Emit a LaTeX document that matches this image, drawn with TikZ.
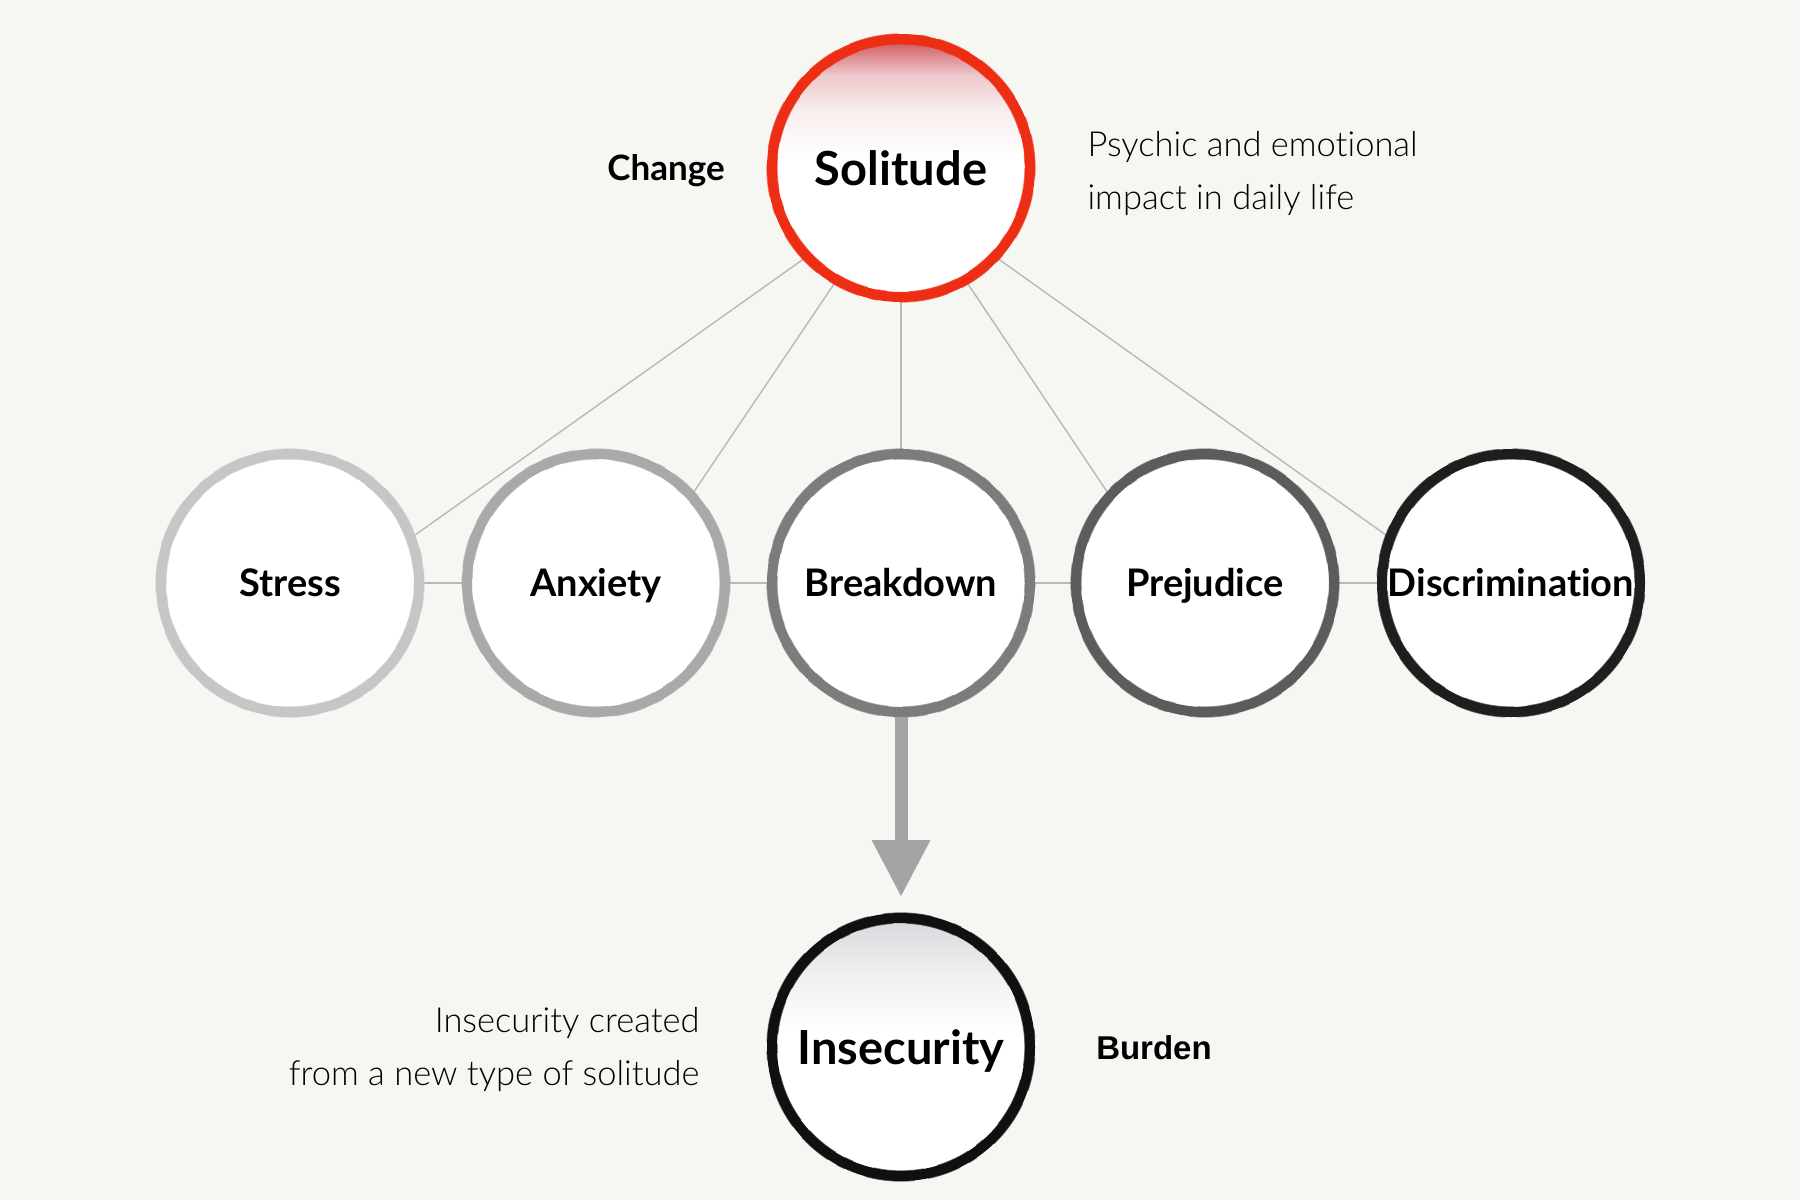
\documentclass[tikz,border=0pt]{standalone}
\usepackage{fontspec}
\setmainfont{Lato}[Ligatures=NoCommon]
\newfontfamily\lightfont{Lato Light}[Ligatures=NoCommon]
\newfontfamily\arialfont{Liberation Sans}
\usetikzlibrary{arrows.meta,backgrounds}
\definecolor{bgc}{HTML}{F6F6F2}
\definecolor{solred}{HTML}{EE2E14}
\definecolor{soltop}{HTML}{CE525A}
\definecolor{solpink}{HTML}{EDC9CC}
\definecolor{solpale}{HTML}{F9EDEE}
\definecolor{instop}{HTML}{D8D8DC}
\definecolor{inspale}{HTML}{F0F0F2}
\definecolor{linkc}{HTML}{B8B8B4}
\definecolor{arrowc}{HTML}{A4A4A4}
\definecolor{cst}{HTML}{C6C6C6}
\definecolor{can}{HTML}{A9A9A9}
\definecolor{cbd}{HTML}{7C7C7C}
\definecolor{cpr}{HTML}{5C5C5C}
\definecolor{cdi}{HTML}{1E1E1E}
\definecolor{cins}{HTML}{101010}
\pgfdeclareverticalshading{solshade}{100bp}{color(0bp)=(white); color(52bp)=(white); color(61bp)=(solpale); color(68bp)=(solpink); color(75bp)=(soltop); color(100bp)=(soltop)}
\pgfdeclareverticalshading{insshade}{100bp}{color(0bp)=(white); color(53bp)=(white); color(64bp)=(inspale); color(75bp)=(instop); color(100bp)=(instop)}
\tikzset{
  ring/.style={circle, minimum size=258pt, inner sep=0pt, line width=10pt, draw=#1, fill=white,
    text height=27.5pt, text depth=0pt,
    font=\fontsize{38}{44}\selectfont\bfseries},
  bigring/.style={ring=#1, text height=34pt, font=\fontsize{47}{54}\selectfont\bfseries},
  bristle/.style={line width=0.9pt, opacity=0.6, dash pattern=on 34pt off 10pt on 9pt off 22pt on 50pt off 14pt},
  link/.style={draw=linkc, line width=1.4pt},
  sidebold/.style={font=\fontsize{35}{40}\selectfont\bfseries},
  sidelight/.style={font=\fontsize{34.5}{53}\selectfont\lightfont, align=left},
}
\begin{document}
\begin{tikzpicture}[x=1pt,y=-1pt]
\useasboundingbox (0,0) rectangle (1800,1200);
% main nodes
\node[bigring=solred, shading=solshade] (sol) at (901,168) {Solitude};
\node[ring=cst] (st) at (290,583) {Stress};
\node[ring=can] (an) at (596,583) {Anxiety};
\node[ring=cbd] (bd) at (901,583) {Breakdown};
\node[ring=cpr] (pr) at (1205,583) {Prejudice};
\node[ring=cdi] (di) at (1511,583) {Discrimination};
\node[bigring=cins, shading=insshade] (ins) at (901,1047) {Insecurity};
% brush-like rough edges
\foreach \n/\c/\ph in {sol/solred/0, st/cst/20, an/can/45, bd/cbd/70, pr/cpr/15, di/cdi/55, ins/cins/35} {
  \draw[\c, bristle, dash phase=\ph pt] (\n.center) circle[radius=134.2pt];
  \draw[\c, bristle, dash phase=\ph pt+40pt] (\n.center) circle[radius=123.8pt];
}
% side texts
\node[sidebold] (chg) at (666,171) {Change};
\node[sidelight, anchor=west] (psy) at (1084,173) {Psychic and emotional\\impact in daily life};
\node[sidelight, anchor=east, align=right] (isc) at (703,1049) {Insecurity created\\from a new type of solitude};
\node[font=\fontsize{33}{40}\selectfont\arialfont\bfseries] (bur) at (1154,1048) {Burden};
% connectors
\begin{scope}[on background layer]
\fill[bgc] (0,0) rectangle (1800,1200);
\draw[link] (sol.223) -- (st.21);
\draw[link] (sol.240) -- (an.43);
\draw[link] (sol.270) -- (bd.90);
\draw[link] (sol.300) -- (pr.137);
\draw[link] (sol.317) -- (di.159);
\draw[link] (st.east) -- (an.west);
\draw[link] (an.east) -- (bd.west);
\draw[link] (bd.east) -- (pr.west);
\draw[link] (pr.east) -- (di.west);
\end{scope}
\draw[draw=arrowc, line width=13pt, -{Triangle[width=55pt,length=57pt]}, shorten >=16pt] (bd.south) -- (ins.north);
\end{tikzpicture}
\end{document}
